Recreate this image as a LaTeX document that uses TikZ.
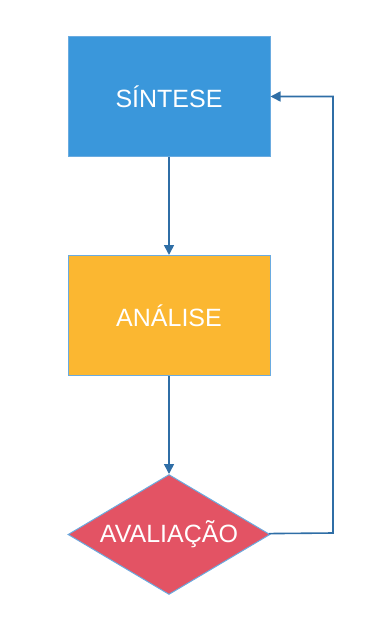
\documentclass[tikz,border=0pt]{standalone}
\usepackage{fontspec}
\setmainfont{Liberation Sans}
\usepackage{tikz}
\usetikzlibrary{arrows, positioning, shapes.geometric}
\usetikzlibrary{arrows.meta}

\definecolor{azul}{HTML}{3A97DB}
\definecolor{amarelo}{HTML}{FBB731}
\definecolor{vermelho}{HTML}{E35364}
\definecolor{borda}{HTML}{6AABE0}
\definecolor{linha}{HTML}{2F6EA6}

\begin{document}
\begin{tikzpicture}[
	->,
	>={Triangle[length=10pt,width=10pt]},
	line width=1.6pt,
	node distance=98pt,
	font=\fontsize{25}{30}\selectfont,
	text=white
]

\tikzset{etapa/.style={rectangle,draw=borda,line width=1pt,minimum width=202pt,minimum height=120pt,inner sep=0pt}}
\useasboundingbox (0,0) rectangle (365pt,-617pt);

\node[etapa,fill=azul] (sin) at (169pt,-96.5pt) {SÍNTESE};
\node[etapa,fill=amarelo] (ana) [below=of sin] {ANÁLISE};
\node[etapa,diamond,fill=vermelho,aspect=1.68,minimum height=120pt] (ava) [below=of ana] {AVALIAÇÃO};
\coordinate (volta) at (333pt,-533pt);

{
\tikzstyle{every path}=[draw=linha]
\draw[linha] (sin) -- (ana);
\draw[linha] (ana) -- (ava);
\draw[linha] (ava) -- (volta) |- (sin);
}
\end{tikzpicture}
\end{document}
